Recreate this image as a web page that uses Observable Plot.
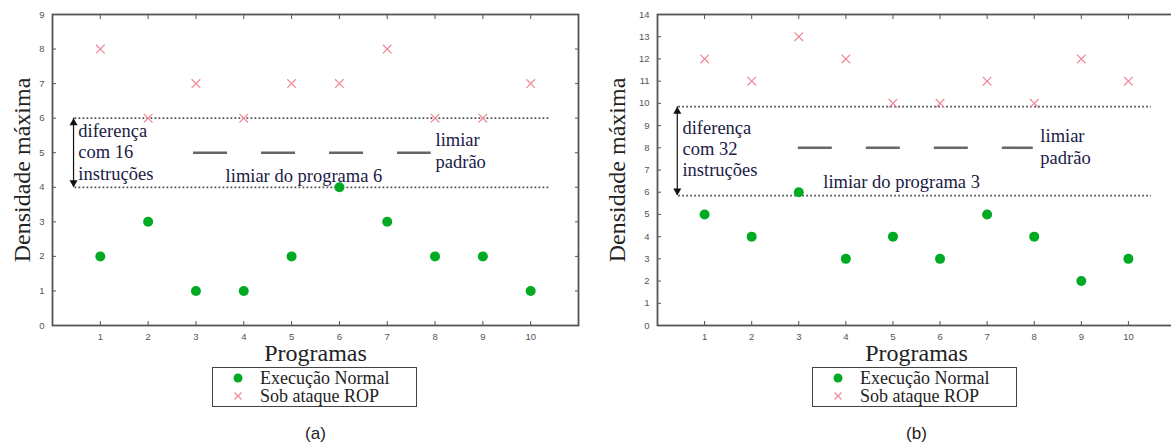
<!DOCTYPE html>
<html><head><meta charset="utf-8">
<script src="https://cdn.jsdelivr.net/npm/d3@7"></script>
<script src="https://cdn.jsdelivr.net/npm/@observablehq/plot@0.6"></script>
<style>
body{margin:0;background:#fff;overflow:hidden}
#wrap{position:relative;width:1171px;height:445px;overflow:hidden;background:#fff}
.panel{position:absolute;top:0}
.legend{position:absolute;top:367px;height:38px;width:203px;border:1.5px solid #444;font-family:"Liberation Serif",serif;font-size:18px;color:#222;background:#fff}
.row{position:absolute;left:0;height:18px;line-height:18px;white-space:nowrap}
.row svg{position:absolute;left:19px;top:3px}
.row span{position:absolute;left:47px;top:0}
</style></head><body><div id="wrap"></div>
<script>
const programs = [1,2,3,4,5,6,7,8,9,10];
const normalA = [2,3,1,1,2,4,3,2,2,1];
const ropA    = [8,6,7,6,7,7,8,6,6,7];
const normalB = [5,4,6,3,4,3,5,4,2,3];
const ropB    = [12,11,13,12,10,10,11,10,12,11];
const yTicksA = [0,1,2,3,4,5,6,7,8,9];
const yTicksB = [0,1,2,3,4,5,6,7,8,9,10,11,12,13,14];
const seriesNames = ["Execução Normal", "Sob ataque ROP"];
const yLabel = "Densidade máxima";
const xLabel = "Programas";

const GREEN = "#00aa22", PINK = "#f08898", TXT = "#1a1a44";
const SERIF = "Liberation Serif, serif";

function panel(cfg) {
  const normal = programs.map((p, i) => ({p, v: cfg.normal[i]}));
  const rop = programs.map((p, i) => ({p, v: cfg.rop[i]}));
  const axisStyle = {fontSize: 9.5, color: "#555", fontFamily: "Liberation Sans, sans-serif", label: null};
  return Plot.plot({
    width: cfg.width, height: 445,
    marginLeft: cfg.ml, marginRight: cfg.mr, marginTop: 14, marginBottom: 120,
    style: {background: "transparent", overflow: "visible"},
    x: {domain: [0, 11]},
    y: {domain: [0, cfg.ymax]},
    marks: [
      Plot.ruleY([cfg.upper, cfg.program], {x1: cfg.dotX[0], x2: cfg.dotX[1], stroke: "#555", strokeWidth: 1.8, strokeDasharray: "1.8,2.2"}),
      Plot.ruleY([cfg.standard], {x1: cfg.dashX[0], x2: cfg.dashX[1], stroke: "#666", strokeWidth: 2.5, strokeDasharray: "34,34"}),
      Plot.ruleX([cfg.arrowX], {y1: cfg.program, y2: cfg.upper, stroke: "#111", strokeWidth: 1.2}),
      Plot.dot([cfg.upper], {x: () => cfg.arrowX, y: d => d, symbol: "triangle", r: 3, fill: "#111", dy: 4.7}),
      Plot.dot([cfg.program], {x: () => cfg.arrowX, y: d => d, symbol: "triangle", r: 3, fill: "#111", dy: -4.7, rotate: 180}),
      Plot.frame({stroke: "#555", strokeWidth: 1.8}),
      Plot.axisX({anchor: "bottom", ticks: programs, tickSize: -4, tickFormat: () => "", ...axisStyle}),
      Plot.axisX({anchor: "top", ticks: programs, tickSize: -4, tickFormat: () => "", ...axisStyle}),
      Plot.axisX({anchor: "bottom", ticks: programs, tickSize: 0, tickPadding: 8, ...axisStyle}),
      Plot.axisY({anchor: "left", ticks: cfg.yTicks, tickSize: -4, tickFormat: () => "", ...axisStyle}),
      Plot.axisY({anchor: "right", ticks: cfg.yTicks, tickSize: -4, tickFormat: () => "", ...axisStyle}),
      Plot.axisY({anchor: "left", ticks: cfg.yTicks, tickSize: 0, tickPadding: 8, ...axisStyle}),
      Plot.dot(normal, {x: "p", y: "v", r: 5, fill: GREEN}),
      Plot.dot(rop, {x: "p", y: "v", r: 4, symbol: "times", stroke: PINK, strokeWidth: 1.2}),
      Plot.text([cfg.diffText], {x: cfg.diffPos[0], y: cfg.diffPos[1], text: d => d, textAnchor: "start", lineAnchor: "bottom", lineHeight: 1.15, fontSize: 18.5, fontFamily: SERIF, fill: TXT}),
      Plot.text([cfg.progText], {x: cfg.progPos[0], y: cfg.progPos[1], text: d => d, textAnchor: "start", lineAnchor: "bottom", fontSize: 18.5, fontFamily: SERIF, fill: TXT}),
      Plot.text(["limiar\npadrão"], {x: cfg.stdPos[0], y: cfg.stdPos[1], text: d => d, textAnchor: "start", lineAnchor: "bottom", lineHeight: 1.15, fontSize: 18.5, fontFamily: SERIF, fill: TXT}),
      Plot.text([yLabel], {frameAnchor: "left", dx: cfg.ylabDx, rotate: -90, text: d => d, textAnchor: "middle", lineAnchor: "middle", fontSize: 24, fontFamily: SERIF, fill: "#222"}),
      Plot.text([xLabel], {frameAnchor: "bottom", dy: 28, text: d => d, textAnchor: "middle", lineAnchor: "middle", fontSize: 24, fontFamily: SERIF, fill: "#222"}),
      Plot.text([cfg.tag], {frameAnchor: "bottom", dy: 108, text: d => d, textAnchor: "middle", lineAnchor: "middle", fontSize: 17, fontFamily: "Liberation Sans, sans-serif", fill: "#222"})
    ]
  });
}

const wrap = document.getElementById("wrap");
const cfgs = [
  {left: 0, width: 590, ml: 52, mr: 12, ymax: 9, yTicks: yTicksA, normal: normalA, rop: ropA,
   upper: 6, program: 4, standard: 5, dotX: [0.47, 10.38], dashX: [2.95, 7.92], arrowX: 0.44,
   diffText: "diferença\ncom 16\ninstruções", diffPos: [0.54, 4.22],
   progText: "limiar do programa 6", progPos: [3.62, 4.14], stdPos: [8.01, 4.57],
   ylabDx: -30, tag: "(a)", legendLeft: 212},
  {left: 600, width: 590, ml: 57, mr: 15, ymax: 14, yTicks: yTicksB, normal: normalB, rop: ropB,
   upper: 9.85, program: 5.85, standard: 8, dotX: [0.45, 10.49], dashX: [2.99, 7.98], arrowX: 0.42,
   diffText: "diferença\ncom 32\ninstruções", diffPos: [0.53, 6.71],
   progText: "limiar do programa 3", progPos: [3.52, 6.17], stdPos: [8.13, 7.29],
   ylabDx: -40, tag: "(b)", legendLeft: 812}
];
for (const cfg of cfgs) {
  const svg = panel(cfg);
  svg.classList.add("panel");
  svg.style.left = cfg.left + "px";
  svg.style.position = "absolute";
  svg.style.top = "0px";
  wrap.appendChild(svg);
  const lg = document.createElement("div");
  lg.className = "legend";
  lg.style.left = cfg.legendLeft + "px";
  lg.innerHTML =
    `<div class="row" style="top:1px;width:100%"><svg width="12" height="12"><circle cx="6" cy="6" r="4.5" fill="${GREEN}"/></svg><span>${seriesNames[0]}</span></div>` +
    `<div class="row" style="top:19px;width:100%"><svg width="12" height="12"><path d="M2.5,2.5L9.5,9.5M9.5,2.5L2.5,9.5" stroke="${PINK}" stroke-width="1.2"/></svg><span>${seriesNames[1]}</span></div>`;
  wrap.appendChild(lg);
}
</script></body></html>
